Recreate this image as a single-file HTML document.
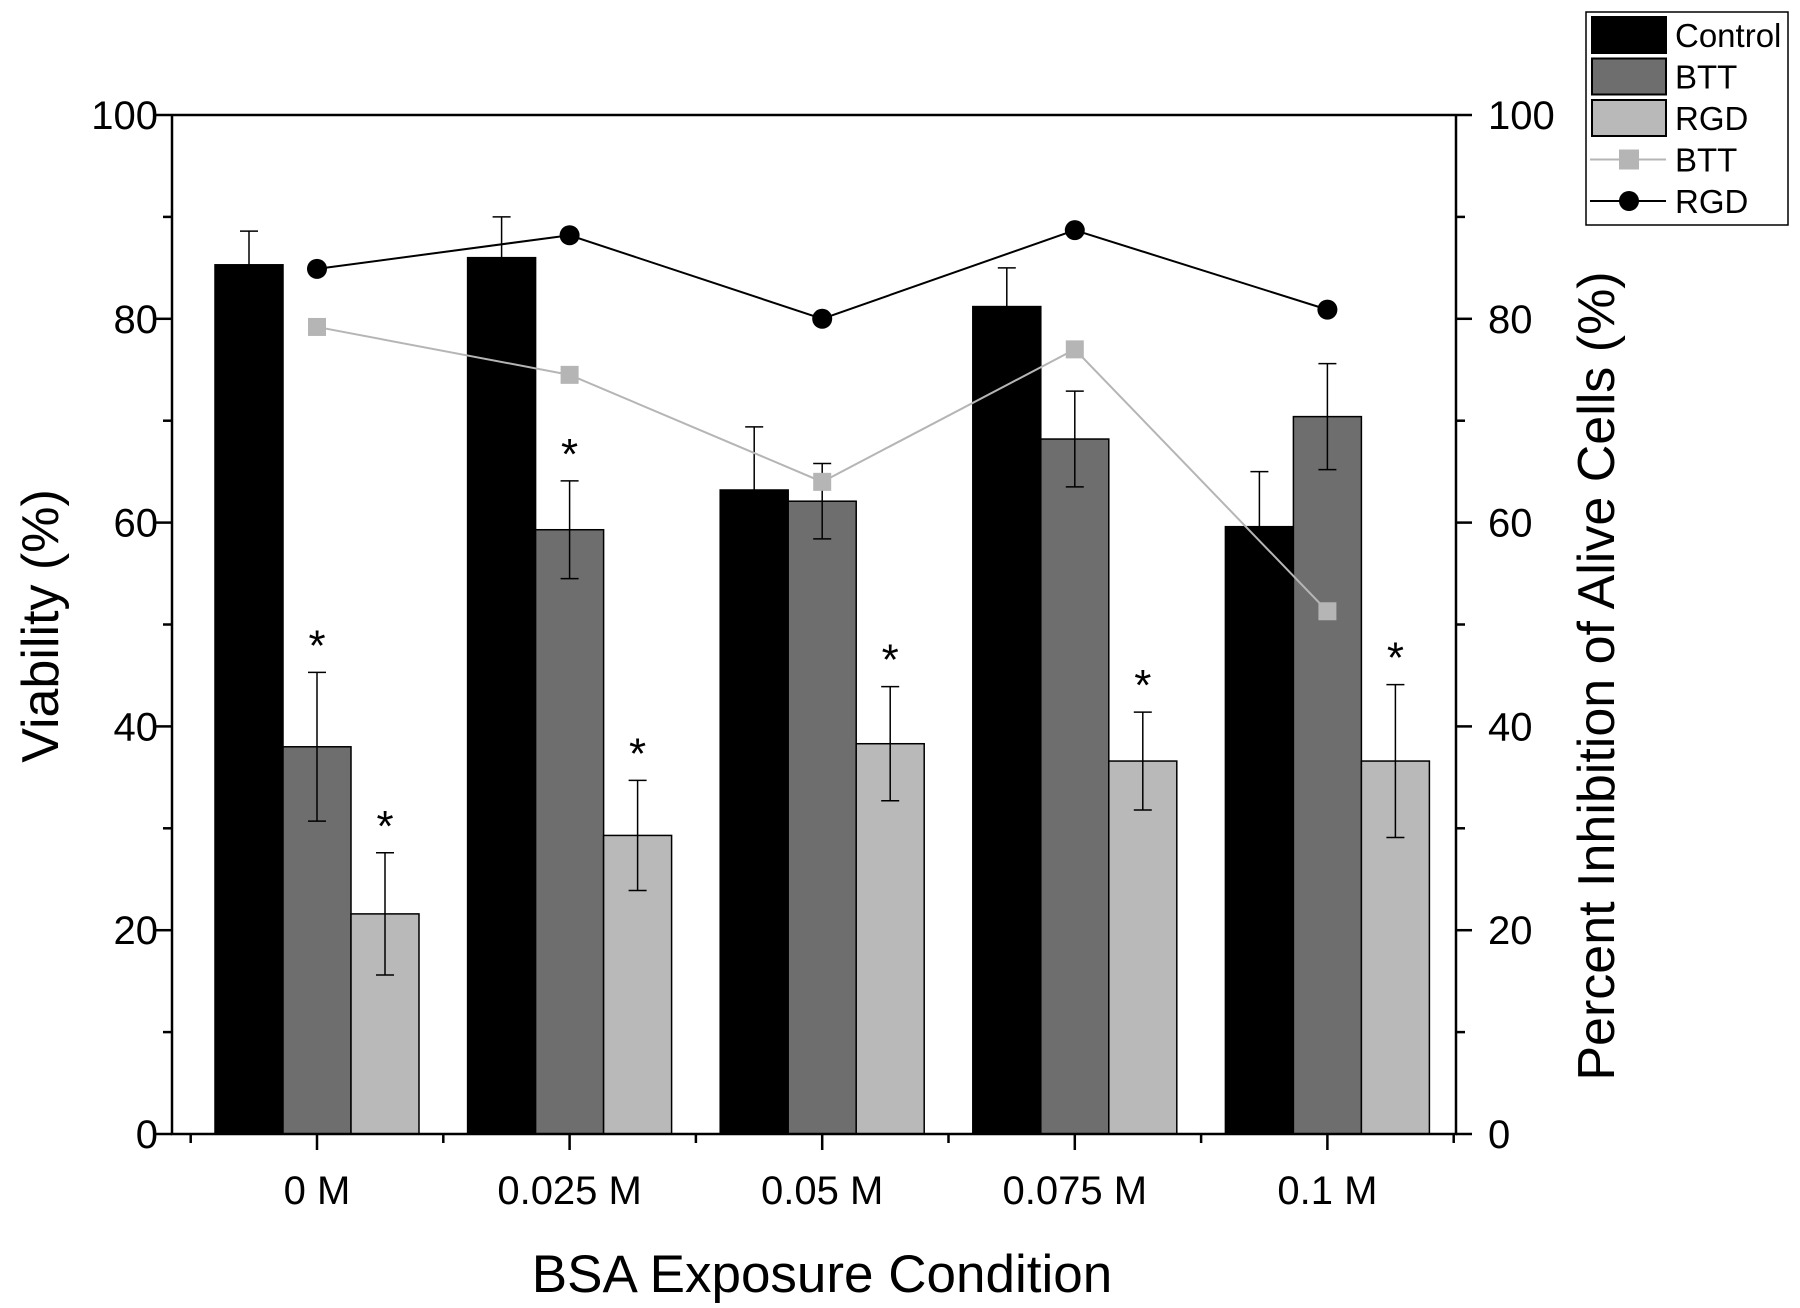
<!DOCTYPE html>
<html><head><meta charset="utf-8"><style>
html,body{margin:0;padding:0;background:#fff;}
svg{display:block;font-family:"Liberation Sans",Arial,sans-serif;}
</style></head><body>
<svg id="chart" width="1800" height="1308" viewBox="0 0 1800 1308"></svg>
<script>
const categories = ["0 M","0.025 M","0.05 M","0.075 M","0.1 M"];
const controlVals = [85.3,86,63.2,81.2,59.6];
const controlErr = [3.3,4,6.2,3.8,5.4];
const bttVals = [38,59.3,62.1,68.2,70.4];
const bttErr = [7.3,4.8,3.7,4.7,5.2];
const rgdVals = [21.6,29.3,38.3,36.6,36.6];
const rgdErr = [6,5.4,5.6,4.8,7.5];
const bttStar = [true,true,false,false,false];
const rgdStar = [true,true,true,true,true];
const bttLine = [79.2,74.5,64,77,51.3];
const rgdLine = [84.9,88.2,80,88.7,80.9];
const yTicks = [0,20,40,60,80,100];

const NS="http://www.w3.org/2000/svg";
const svg=document.getElementById('chart');
const L=172,R=1456,T=115,B=1134;
const step=252.6, x0=317, bw=68;
const xc=i=>x0+i*step;
const y=v=>B-(v/100)*(B-T);
function el(tag,attrs,parent){const e=document.createElementNS(NS,tag);for(const k in attrs)e.setAttribute(k,attrs[k]);(parent||svg).appendChild(e);return e;}
function txt(s,attrs){const e=el('text',attrs);e.textContent=s;return e;}

const series=[[controlVals,controlErr,'#000',-1,null],[bttVals,bttErr,'#6e6e6e',0,bttStar],[rgdVals,rgdErr,'#b9b9b9',1,rgdStar]];
const names=['control','btt','rgd'];
series.forEach((s,si)=>{
  s[0].forEach((v,i)=>{
    const cx=xc(i)+s[3]*bw;
    const r=el('rect',{x:cx-bw/2,y:y(v),width:bw,height:B-y(v),fill:s[2],stroke:'#000','stroke-width':1.5});
    
    
    const top=y(v+s[1][i]), bot=y(v-s[1][i]);
    const g=el('path',{d:`M${cx},${top}V${bot}M${cx-9},${top}H${cx+9}M${cx-9},${bot}H${cx+9}`,stroke:'#000','stroke-width':1.5,fill:'none'});
    
    
    if(s[4]&&s[4][i]){
      const st=txt('*',{x:cx,y:top-12,'font-size':44,'text-anchor':'middle'});
      
      
    }
  });
});
function line(vals,color,marker,nm){
  const pl=el('polyline',{points:vals.map((v,i)=>xc(i)+','+y(v)).join(' '),fill:'none',stroke:color,'stroke-width':2});
  
  
  vals.forEach((v,i)=>{
    let m;
    if(marker==='sq') m=el('rect',{x:xc(i)-9,y:y(v)-9,width:18,height:18,fill:color});
    else m=el('circle',{cx:xc(i),cy:y(v),r:10,fill:color});
    
    
  });
}
line(bttLine,'#b5b5b5','sq','btt-inhibition');
line(rgdLine,'#000','c','rgd-inhibition');
const ax=el('path',{d:`M${L},${T}V${B}H${R}V${T}M${L},${T}H${R}`,stroke:'#000','stroke-width':2.5,fill:'none'});


for(let v=0;v<=100;v+=10){
  const major=v%20===0, len=major?16:9;
  el('line',{x1:L-len,x2:L,y1:y(v),y2:y(v),stroke:'#000','stroke-width':2.5});
  el('line',{x1:R,x2:R+len,y1:y(v),y2:y(v),stroke:'#000','stroke-width':2.5});
}
yTicks.forEach(v=>{
  const a=txt(String(v),{x:158,y:y(v)+14,'font-size':40,'text-anchor':'end'});
  
  
  const b=txt(String(v),{x:1488,y:y(v)+14,'font-size':40,'text-anchor':'start'});
  
  
});
for(let i=-0.5;i<=categories.length-0.5;i+=0.5){
  const major=Number.isInteger(i);
  el('line',{x1:xc(i),x2:xc(i),y1:B,y2:B+(major?16:9),stroke:'#000','stroke-width':2.5});
}
categories.forEach((c,i)=>{
  const t=txt(c,{x:xc(i),y:1204,'font-size':40,'text-anchor':'middle'});
  
  
});
const xt=txt('BSA Exposure Condition',{x:822,y:1292,'font-size':53,'text-anchor':'middle'});


const yl=txt('Viability (%)',{x:0,y:0,'font-size':52,'text-anchor':'middle',transform:'translate(58,626) rotate(-90)'});


const yr=txt('Percent Inhibition of Alive Cells (%)',{x:0,y:0,'font-size':52,'text-anchor':'middle',transform:'translate(1614,676) rotate(-90)'});


const lg=el('g',{});


el('rect',{x:1586,y:12,width:202,height:213,fill:'#fff',stroke:'#000','stroke-width':1.5},lg);
const items=[['Control','#000','bar'],['BTT','#6e6e6e','bar'],['RGD','#b9b9b9','bar'],['BTT','#b5b5b5','sq'],['RGD','#000','c']];
items.forEach((it,k)=>{
  const cy=35+k*41.5;
  const g=el('g',{},lg);
  
  
  if(it[2]==='bar') el('rect',{x:1592,y:cy-18,width:74,height:36,fill:it[1],stroke:'#000','stroke-width':2},g);
  else{
    el('line',{x1:1590,x2:1666,y1:cy,y2:cy,stroke:it[1],'stroke-width':2},g);
    if(it[2]==='sq') el('rect',{x:1619,y:cy-10,width:20,height:20,fill:it[1]},g);
    else el('circle',{cx:1629,cy:cy,r:10,fill:it[1]},g);
  }
  const t=el('text',{x:1675,y:cy+12,'font-size':33},g);t.textContent=it[0];
});
</script>
</body></html>
